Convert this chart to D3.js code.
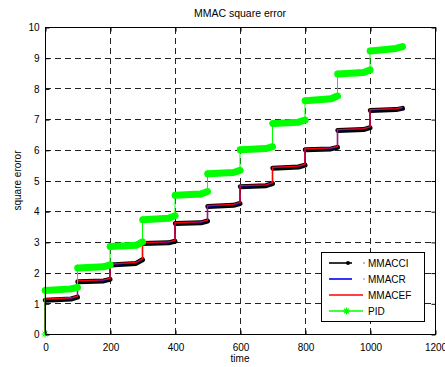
<!DOCTYPE html>
<html>
<head>
<meta charset="utf-8">
<script src="https://cdn.jsdelivr.net/npm/d3@7"></script>
<style>
  html, body { margin: 0; padding: 0; background: #fff; }
  svg { display: block; }
  text { font-family: "Liberation Sans", Arial, Helvetica, sans-serif; fill: #000; }
</style>
</head>
<body>
<svg id="chart" width="445" height="367"></svg>
<script>
// ---- data ----------------------------------------------------------------
// The set-point changes every 100 time units; each stretch is described by
// its value just after the step, at 80% of the stretch, and at its end.
const stepTimes = [0, 100, 200, 300, 400, 500, 600, 700, 800, 900, 1000];
const stepLength = 100;

const mmacciStart = [1.10, 1.70, 2.25, 2.95, 3.60, 4.15, 4.80, 5.40, 6.00, 6.63, 7.28];
const mmacciMid   = [1.14, 1.73, 2.30, 2.97, 3.62, 4.19, 4.83, 5.44, 6.03, 6.66, 7.31];
const mmacciEnd   = [1.20, 1.78, 2.42, 3.02, 3.68, 4.25, 4.90, 5.50, 6.08, 6.72, 7.35];

const mmacrStart  = [1.12, 1.72, 2.27, 2.97, 3.62, 4.17, 4.82, 5.42, 6.02, 6.65, 7.30];
const mmacrMid    = [1.16, 1.75, 2.32, 2.99, 3.64, 4.21, 4.85, 5.46, 6.05, 6.68, 7.33];
const mmacrEnd    = [1.22, 1.80, 2.44, 3.04, 3.70, 4.27, 4.92, 5.52, 6.10, 6.74, 7.37];

const mmacefStart = [1.14, 1.73, 2.28, 2.98, 3.63, 4.18, 4.83, 5.43, 6.03, 6.66, 7.31];
const mmacefMid   = [1.18, 1.76, 2.33, 3.00, 3.65, 4.22, 4.86, 5.47, 6.06, 6.69, 7.34];
const mmacefEnd   = [1.23, 1.81, 2.45, 3.05, 3.71, 4.28, 4.93, 5.53, 6.11, 6.75, 7.38];

const pidStart    = [1.42, 2.15, 2.85, 3.72, 4.52, 5.22, 6.00, 6.86, 7.60, 8.47, 9.22];
const pidMid      = [1.47, 2.19, 2.89, 3.77, 4.56, 5.26, 6.04, 6.90, 7.66, 8.52, 9.30];
const pidEnd      = [1.52, 2.25, 3.00, 3.85, 4.64, 5.33, 6.10, 6.97, 7.75, 8.60, 9.36];

const xTicks = [0, 200, 400, 600, 800, 1000, 1200];
const yTicks = [0, 1, 2, 3, 4, 5, 6, 7, 8, 9, 10];

const seriesNames = ["MMACCI", "MMACR", "MMACEF", "PID"];

// ---- layout --------------------------------------------------------------
const svg = d3.select("#chart");
const plot = { left: 45, right: 435, top: 27, bottom: 334 };

const x = d3.scaleLinear().domain([0, 1200]).range([plot.left, plot.right]);
const y = d3.scaleLinear().domain([0, 10]).range([plot.bottom, plot.top]);

// build the point list of a stepped trajectory (starting from 0 at t = 0)
function trajectory(starts, mids, ends) {
  const pts = [[0, 0]];
  stepTimes.forEach((t, i) => {
    pts.push([t, starts[i]]);
    pts.push([t + stepLength * 0.8, mids[i]]);
    pts.push([t + stepLength, ends[i]]);
  });
  return pts;
}
// horizontal stretches only (where the dense sample markers pile up)
function stretches(starts, mids, ends) {
  return stepTimes.map((t, i) => [
    [t + 1, starts[i]],
    [t + stepLength * 0.8, mids[i]],
    [t + stepLength, ends[i]]
  ]);
}

const line = d3.line().x(d => x(d[0])).y(d => y(d[1]));

// ---- grid ----------------------------------------------------------------
const grid = svg.append("g");
grid.selectAll("line.vx")
  .data(xTicks.filter(v => v > 0 && v < 1200))
  .join("line")
  .attr("x1", d => x(d) + 0.5).attr("x2", d => x(d) + 0.5)
  .attr("y1", plot.bottom).attr("y2", plot.top)
  .attr("stroke", "#222").attr("stroke-width", 1)
  .attr("stroke-dasharray", "6,4");
grid.selectAll("line.hy")
  .data(yTicks.filter(v => v > 0 && v < 10))
  .join("line")
  .attr("x1", plot.left).attr("x2", plot.right)
  .attr("y1", d => Math.round(y(d)) + 0.5).attr("y2", d => Math.round(y(d)) + 0.5)
  .attr("stroke", "#222").attr("stroke-width", 1)
  .attr("stroke-dasharray", "6,4");

// ---- series --------------------------------------------------------------
const marks = svg.append("g");

// MMACCI: black line with dense '.' markers -> thick black band
marks.selectAll("path.cib")
  .data(stretches(mmacciStart, mmacciMid, mmacciEnd))
  .join("path")
  .attr("d", line).attr("fill", "none")
  .attr("stroke", "#000").attr("stroke-width", 5)
  .attr("stroke-linecap", "round").attr("stroke-linejoin", "round");
marks.append("path")
  .attr("d", line(trajectory(mmacciStart, mmacciMid, mmacciEnd)))
  .attr("fill", "none").attr("stroke", "#000").attr("stroke-width", 1);

// MMACR: blue
marks.append("path")
  .attr("d", line(trajectory(mmacrStart, mmacrMid, mmacrEnd)))
  .attr("fill", "none").attr("stroke", "#0000ff").attr("stroke-width", 1.3);

// MMACEF: red
marks.append("path")
  .attr("d", line(trajectory(mmacefStart, mmacefMid, mmacefEnd)))
  .attr("fill", "none").attr("stroke", "#ff0000").attr("stroke-width", 1.3);

// PID: green line with dense '*' markers -> wide fuzzy green band
const starPath = s => `M${-s},0L${s},0M0,${-s}L0,${s}M${-s * 0.7},${-s * 0.7}L${s * 0.7},${s * 0.7}M${-s * 0.7},${s * 0.7}L${s * 0.7},${-s * 0.7}`;

marks.append("path")
  .attr("d", line(trajectory(pidStart, pidMid, pidEnd)))
  .attr("fill", "none").attr("stroke", "#00ff00").attr("stroke-width", 1);
marks.selectAll("path.pidb")
  .data(stretches(pidStart, pidMid, pidEnd))
  .join("path")
  .attr("d", line).attr("fill", "none")
  .attr("stroke", "#00ff00").attr("stroke-width", 7)
  .attr("stroke-linecap", "round").attr("stroke-linejoin", "round");
const pidPts = trajectory(pidStart, pidMid, pidEnd);
marks.selectAll("path.pidstar")
  .data(pidPts)
  .join("path")
  .attr("transform", d => `translate(${x(d[0])},${y(d[1])})`)
  .attr("d", starPath(3.5))
  .attr("stroke", "#00ff00").attr("stroke-width", 1).attr("fill", "none");

// ---- axes box ------------------------------------------------------------
const axisG = svg.append("g");
axisG.append("rect")
  .attr("x", plot.left + 0.5).attr("y", plot.top + 0.5)
  .attr("width", plot.right - plot.left).attr("height", plot.bottom - plot.top)
  .attr("fill", "none").attr("stroke", "#000").attr("stroke-width", 1);

const fmt = d3.format("d");
const xAxis = d3.axisBottom(x).tickValues(xTicks).tickFormat(fmt).tickSizeInner(-4).tickSizeOuter(0).tickPadding(9);
const yAxis = d3.axisLeft(y).tickValues(yTicks).tickFormat(fmt).tickSizeInner(-4).tickSizeOuter(0).tickPadding(6);

const gx = axisG.append("g").attr("transform", `translate(0.5,${plot.bottom + 0.5})`).call(xAxis);
const gy = axisG.append("g").attr("transform", `translate(${plot.left + 0.5},0.5)`).call(yAxis);
[gx, gy].forEach(g => {
  g.select(".domain").remove();
  g.selectAll("text").attr("font-size", 10).attr("font-family", "Liberation Sans, Arial, sans-serif");
});

// top and right inward ticks
axisG.append("g").attr("transform", `translate(0.5,${plot.top + 0.5})`)
  .call(d3.axisTop(x).tickValues(xTicks).tickSizeInner(-4).tickSizeOuter(0).tickFormat(""))
  .select(".domain").remove();
axisG.append("g").attr("transform", `translate(${plot.right + 0.5},0.5)`)
  .call(d3.axisRight(y).tickValues(yTicks).tickSizeInner(-4).tickSizeOuter(0).tickFormat(""))
  .select(".domain").remove();

// ---- labels --------------------------------------------------------------
svg.append("text").attr("x", 240).attr("y", 17).attr("text-anchor", "middle")
  .attr("font-size", 10.5).text("MMAC square error");
svg.append("text").attr("x", 240).attr("y", 362).attr("text-anchor", "middle")
  .attr("font-size", 10).text("time");
svg.append("text").attr("transform", "translate(21,180.5) rotate(-90)")
  .attr("text-anchor", "middle").attr("font-size", 10).text("square eroror");

// ---- legend --------------------------------------------------------------
const legend = svg.append("g");
legend.append("rect").attr("x", 321.5).attr("y", 252.5).attr("width", 103).attr("height", 69)
  .attr("fill", "#fff").attr("stroke", "#000").attr("stroke-width", 1);
const legendColors = ["#000", "#0000ff", "#ff0000", "#00ff00"];
const legendY = [263, 279, 295, 311];
seriesNames.forEach((name, i) => {
  const ly = legendY[i];
  const short = i < 2;
  legend.append("line").attr("x1", 329).attr("x2", short ? 352 : 363)
    .attr("y1", ly).attr("y2", ly).attr("stroke", legendColors[i]).attr("stroke-width", 1.6);
  if (short) {
    legend.append("rect").attr("x", 363.5).attr("y", ly - 0.5).attr("width", 1).attr("height", 1)
      .attr("fill", legendColors[i]);
  }
  if (i === 0) {
    legend.append("circle").attr("cx", 348).attr("cy", ly).attr("r", 2).attr("fill", "#000");
  }
  if (i === 3) {
    legend.append("path").attr("transform", `translate(346.5,${ly})`).attr("d", starPath(3.5))
      .attr("stroke", "#00ff00").attr("stroke-width", 1.2).attr("fill", "none");
  }
  legend.append("text").attr("x", 368).attr("y", ly).attr("dy", "0.35em")
    .attr("font-size", 10).text(name);
});
</script>
</body>
</html>
